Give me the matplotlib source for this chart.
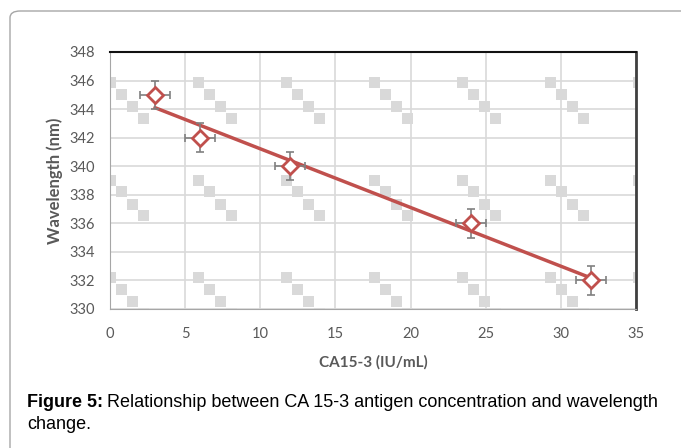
import numpy as np
import matplotlib
matplotlib.use("Agg")
import matplotlib.pyplot as plt
from matplotlib.patches import Rectangle, FancyBboxPatch

# Data
conc = [3, 6, 12, 24, 32]
wavelength = [345, 342, 340, 336, 332]
x_err = [1, 1, 1, 1, 1]
y_err = [1, 1, 1, 1, 1]
x_ticks = [0, 5, 10, 15, 20, 25, 30, 35]
y_ticks = [330, 332, 334, 336, 338, 340, 342, 344, 346, 348]

W, H = 681, 448
fig = plt.figure(figsize=(W / 100, H / 100), dpi=100)

# outer frame
frame = FancyBboxPatch((10 / W, 1 - 11 / H - 1.2), 1.2, 1.2,
                       boxstyle="round,pad=0,rounding_size=0.015",
                       transform=fig.transFigure, fill=False,
                       edgecolor="#A6A6A6", linewidth=1.0)
fig.patches.append(frame)

L, R, T, B = 110, 636, 52, 309
ax = fig.add_axes([L / W, 1 - B / H, (R - L) / W, (B - T) / H])
axw, axh = R - L, B - T

# background pattern of squares (plot-area fill)
sq_col = "#D9D9D9"
for gx in np.arange(105, 700, 88.0):
    for gy in np.arange(-20.5, 340, 97.5):
        for k in range(4):
            px = gx + 11 * k
            py = gy + 12 * k
            r = Rectangle(((px - L) / axw, 1 - (py + 11 - T) / axh),
                          10.5 / axw, 11 / axh, transform=ax.transAxes,
                          facecolor=sq_col, edgecolor="none", zorder=0.5,
                          clip_on=True)
            ax.add_patch(r)

ax.set_xlim(0, 35)
ax.set_ylim(330, 348)
ax.set_xticks(x_ticks)
ax.set_yticks(y_ticks)
ax.grid(True, color="#D9D9D9", linewidth=1.2, zorder=1)
ax.set_axisbelow(True)

tick_font = "Lato"
ax.tick_params(length=0, labelsize=10.5, labelcolor="#595959")
ax.tick_params(axis="y", pad=11)
ax.tick_params(axis="x", pad=13)
for lab in ax.get_xticklabels() + ax.get_yticklabels():
    lab.set_fontfamily(tick_font)

ax.spines["left"].set_color("#A6A6A6")
ax.spines["bottom"].set_color("#A6A6A6")
ax.spines["top"].set_color("#111111")
ax.spines["top"].set_linewidth(1.5)
ax.spines["right"].set_color("#404040")
ax.spines["right"].set_linewidth(2.0)

# trendline
coef = np.polyfit(conc, wavelength, 1)
xs = np.array([min(conc), max(conc)])
ax.plot(xs, np.polyval(coef, xs), color="#C0504D", linewidth=2.5, zorder=3)

ax.errorbar(conc, wavelength, xerr=x_err, yerr=y_err, fmt="none",
            ecolor="#808080", elinewidth=1.2, capsize=3, capthick=1.2, zorder=4)
ax.plot(conc, wavelength, linestyle="none", marker="D", markersize=8,
        markerfacecolor="white", markeredgecolor="#C0504D",
        markeredgewidth=2, zorder=5)

ax.set_xlabel("CA15-3 (IU/mL)", fontfamily="Lato", fontweight="bold",
              fontsize=11, color="#595959", labelpad=10)
ax.set_ylabel("Wavelength (nm)", fontfamily="Lato", fontweight="bold",
              fontsize=12, color="#595959")
ax.yaxis.label.set_verticalalignment("center")
ax.yaxis.label.set_rotation_mode("default")
ax.yaxis.set_label_coords((55 - L) / axw, 0.5)

cap_size = 13
t1 = fig.text(27 / W, 1 - 407 / H, "Figure 5:", fontfamily="Liberation Sans",
              fontweight="bold", fontsize=cap_size, color="black", va="baseline")
fig.canvas.draw()
bb = t1.get_window_extent()
fig.text(bb.x1 / W + 4 / W, 1 - 407 / H,
         "Relationship between CA 15-3 antigen concentration and wavelength",
         fontfamily="Liberation Sans", fontsize=cap_size, color="black",
         va="baseline")
fig.text(27 / W, 1 - 429 / H, "change.", fontfamily="Liberation Sans",
         fontsize=cap_size, color="black", va="baseline")

fig.savefig("out.png", dpi=100)
